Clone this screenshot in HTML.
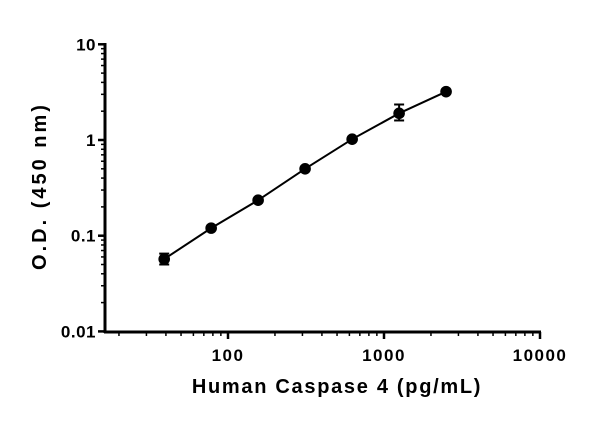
<!DOCTYPE html>
<html><head><meta charset="utf-8"><style>
html,body{margin:0;padding:0;background:#fff;width:600px;height:421px;overflow:hidden}
svg{display:block}
text{font-family:"Liberation Sans",sans-serif;fill:#000}
</style></head><body>
<svg id="s" width="600" height="421" xmlns="http://www.w3.org/2000/svg"></svg>
<script>
const s=document.getElementById('s');
const X=v=>228+156*(Math.log10(v)-2), Y=v=>140-95.7*Math.log10(v);
let h='';
const L=(a,b,c,d,w)=>h+=`<line x1="${a}" y1="${b}" x2="${c}" y2="${d}" stroke="#000" stroke-width="${w}"/>`;
L(105,43,105,333,3);L(104,332,541,332,3);
for(let e=-2;e<=1;e++){for(let m=1;m<=9;m++){const v=m*Math.pow(10,e);if(v>10)break;const y=Y(v);L(m==1?98:101,y,105,y,m==1?2.5:1.5);}}
for(let e=1;e<=4;e++){for(let m=1;m<=9;m++){const v=m*Math.pow(10,e);if(v<17||v>10000)continue;const x=X(v);L(x,332,x,m==1?339:336,m==1?2.5:1.5);}}
[[10,'10'],[1,'1'],[0.1,'0.1'],[0.01,'0.01']].forEach(([v,t])=>h+=`<text x="96" y="${Y(v)+6}" text-anchor="end" font-size="17" font-weight="bold" letter-spacing="0.5">${t}</text>`);
[[100,'100'],[1000,'1000'],[10000,'10000']].forEach(([v,t])=>h+=`<text x="${X(v)}" y="361" text-anchor="middle" font-size="17" font-weight="bold" letter-spacing="1.5">${t}</text>`);
h+=`<text x="337" y="393" text-anchor="middle" font-size="20" font-weight="bold" letter-spacing="1.7">Human Caspase 4 (pg/mL)</text>`;
h+=`<text transform="translate(46,186) rotate(-90)" text-anchor="middle" font-size="20" font-weight="bold" letter-spacing="3">O.D. (450 nm)</text>`;
const d=[[39,0.057,0.05,0.065],[78,0.12],[156,0.235],[312,0.5],[625,1.02],[1250,1.9,1.6,2.35],[2500,3.2]];
h+=`<path d="M${d.map(p=>X(p[0])+','+Y(p[1])).join(' L')}" fill="none" stroke="#000" stroke-width="2"/>`;
d.forEach(p=>{const x=X(p[0]);if(p[2]){L(x,Y(p[2]),x,Y(p[3]),2);L(x-5,Y(p[2]),x+5,Y(p[2]),2);L(x-5,Y(p[3]),x+5,Y(p[3]),2);}h+=`<circle cx="${x}" cy="${Y(p[1])}" r="5.8" fill="#000"/>`;});
s.innerHTML=h;
</script>
</body></html>
